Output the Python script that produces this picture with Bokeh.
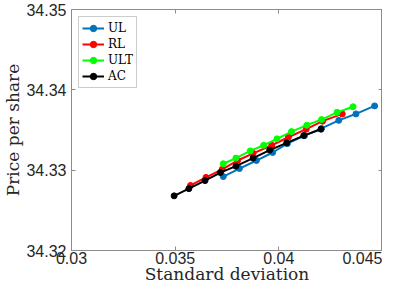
from bokeh.plotting import figure
from bokeh.models import LinearAxis, Range1d, FixedTicker
from bokeh.embed import file_html
from bokeh.resources import INLINE

# Data (standard deviation vs price per share)
ul_x = [0.03732, 0.03810, 0.03892, 0.03970, 0.04041, 0.04124, 0.04206, 0.04289, 0.04372, 0.04462]
ul_y = [34.3292, 34.3302, 34.3312, 34.3322, 34.3333, 34.3343, 34.3352, 34.3362, 34.3370, 34.3380]

rl_x = [0.03574, 0.03649, 0.03727, 0.03801, 0.03876, 0.03966, 0.04046, 0.04132, 0.04211, 0.04306]
rl_y = [34.3281, 34.3291, 34.3301, 34.3312, 34.3321, 34.3331, 34.3341, 34.3351, 34.3361, 34.3370]

ult_x = [0.03732, 0.03793, 0.03862, 0.03927, 0.03991, 0.04061, 0.04135, 0.04206, 0.04281, 0.04358]
ult_y = [34.3308, 34.3315, 34.3324, 34.3331, 34.3339, 34.3348, 34.3356, 34.3363, 34.3372, 34.3379]

ac_x = [0.03495, 0.03566, 0.03644, 0.03718, 0.03793, 0.03876, 0.03956, 0.04038, 0.04120, 0.04203]
ac_y = [34.3268, 34.3277, 34.3287, 34.3297, 34.3305, 34.3315, 34.3325, 34.3334, 34.3343, 34.3351]

series_names = ["UL", "RL", "ULT", "AC"]
series_colors = ["#0072BD", "#FF0000", "#00FF00", "#000000"]

x_ticks = [0.03, 0.035, 0.04, 0.045]
y_ticks = [34.32, 34.33, 34.34, 34.35]
x_tick_labels = {0.03: "0.03", 0.035: "0.035", 0.04: "0.04", 0.045: "0.045"}
y_tick_labels = {34.32: "34.32", 34.33: "34.33", 34.34: "34.34", 34.35: "34.35"}

AXIS_GRAY = "#8c8c8c"
TICK_FONT = "Liberation Sans"
LABEL_FONT = "DejaVu Serif"

p = figure(width=382, height=286, output_backend="svg", toolbar_location=None,
           x_range=Range1d(0.03, 0.045), y_range=Range1d(34.32, 34.35),
           min_border_top=9, min_border_right=0, min_border_left=66, min_border_bottom=5)

p.xgrid.visible = False
p.ygrid.visible = False
p.outline_line_color = AXIS_GRAY
p.outline_line_width = 1

for ax, ticks, labels in ((p.xaxis[0], x_ticks, x_tick_labels), (p.yaxis[0], y_ticks, y_tick_labels)):
    ax.ticker = FixedTicker(ticks=ticks)
    ax.major_label_overrides = labels
    ax.major_tick_in = 4
    ax.major_tick_out = 0
    ax.minor_tick_in = 0
    ax.minor_tick_out = 0
    ax.axis_line_color = AXIS_GRAY
    ax.major_tick_line_color = AXIS_GRAY
    ax.major_label_text_font = TICK_FONT
    ax.major_label_text_font_size = "16px"
    ax.major_label_text_color = "#262626"
    ax.axis_label_text_font = LABEL_FONT
    ax.axis_label_text_font_size = "17px"
    ax.axis_label_text_font_style = "normal"
    ax.axis_label_text_color = "#262626"

p.xaxis[0].axis_label = "Standard deviation"
p.yaxis[0].axis_label = "Price per share"
p.xaxis[0].major_label_standoff = 1
p.xaxis[0].axis_label_standoff = -3
p.yaxis[0].major_label_standoff = 5
p.yaxis[0].axis_label_standoff = 0

# top and right tick marks (minor ticks only, so no labels are drawn)
for loc, ticks in (("above", x_ticks), ("right", y_ticks)):
    ax = LinearAxis(ticker=FixedTicker(ticks=[], minor_ticks=ticks))
    ax.major_label_standoff = 0
    ax.major_tick_in = 0
    ax.major_tick_out = 0
    ax.minor_tick_in = 4
    ax.minor_tick_out = 0
    ax.axis_line_color = AXIS_GRAY
    ax.minor_tick_line_color = AXIS_GRAY
    p.add_layout(ax, loc)

all_x = [ul_x, rl_x, ult_x, ac_x]
all_y = [ul_y, rl_y, ult_y, ac_y]
for name, color, xs, ys in zip(series_names, series_colors, all_x, all_y):
    p.line(xs, ys, line_color=color, line_width=2, legend_label=name)
    p.scatter(xs, ys, marker="circle", size=6, fill_color=color, line_color=color, legend_label=name)

lg = p.legend[0]
lg.location = "top_left"
lg.margin = 7
lg.padding = 3
lg.spacing = 0
lg.glyph_width = 22
lg.glyph_height = 16
lg.label_height = 16
lg.label_standoff = 4
lg.label_text_font = LABEL_FONT
lg.label_text_font_size = "12px"
lg.label_text_color = "#000000"
lg.border_line_color = "#999999"
lg.border_line_width = 1
lg.background_fill_color = "white"
lg.background_fill_alpha = 1

open("out.html", "w").write(file_html(p, INLINE))
